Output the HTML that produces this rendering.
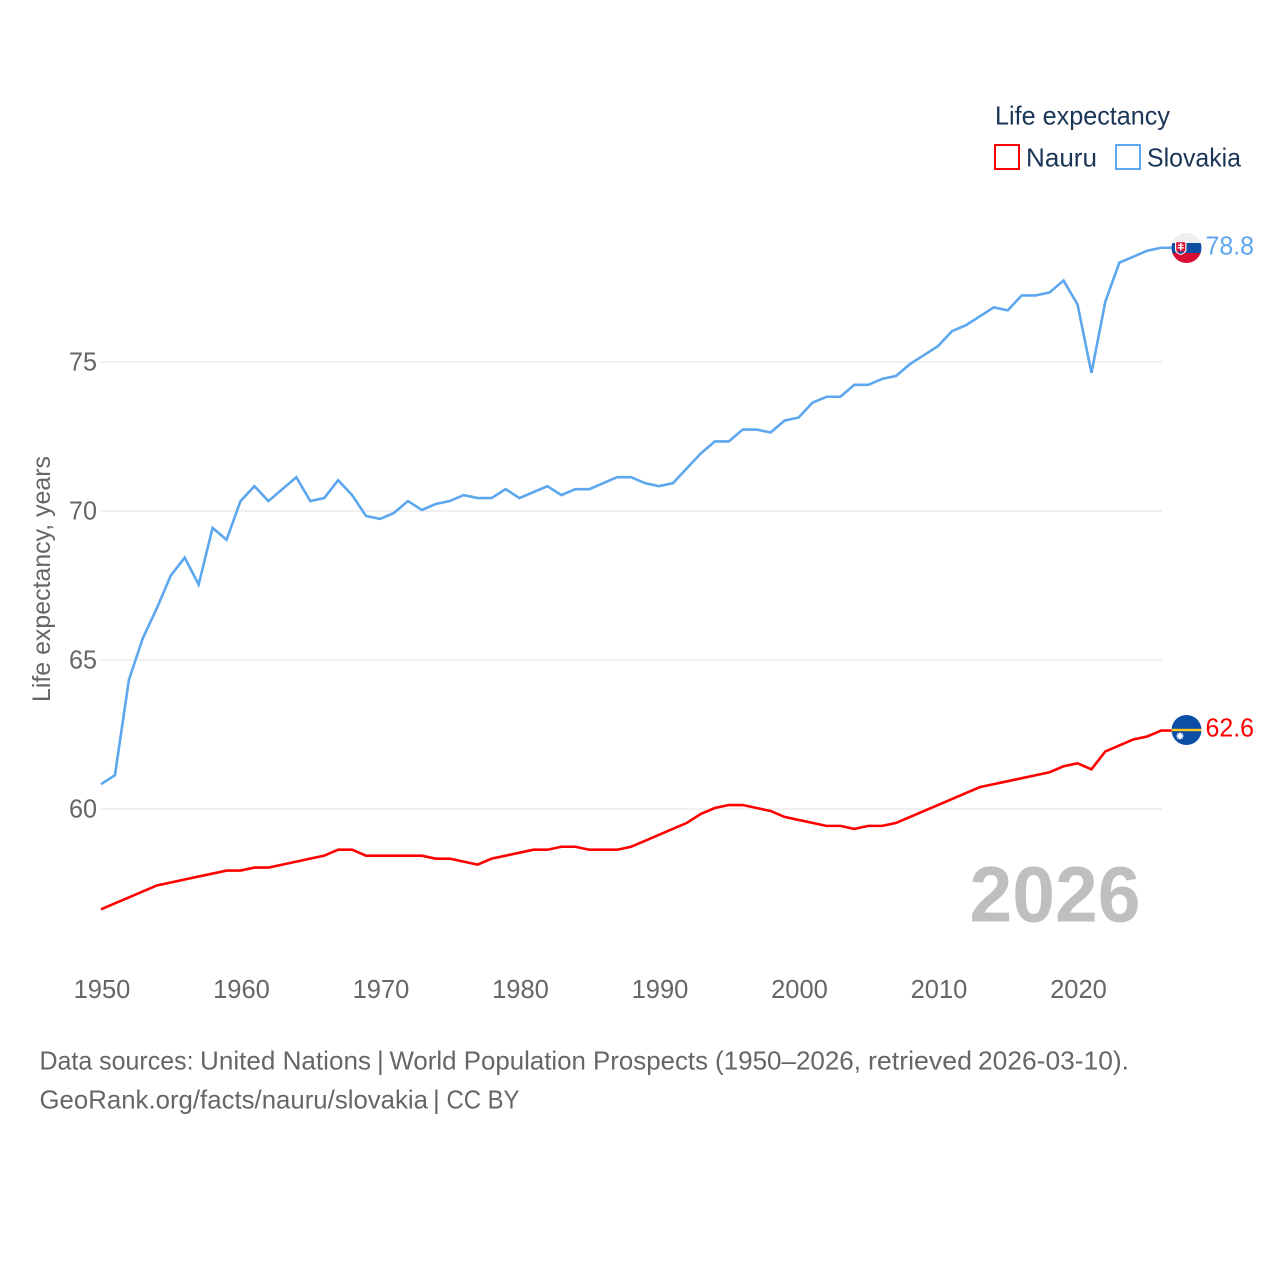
<!DOCTYPE html>
<html lang="en">
<head>
<meta charset="utf-8">
<title>Life expectancy: Nauru vs Slovakia</title>
<style>
html,body{margin:0;padding:0;background:#fff;width:1280px;height:1280px;overflow:hidden}
svg{display:block}
text{font-family:"Liberation Sans",sans-serif}
</style>
</head>
<body>
<svg id="chart" xmlns="http://www.w3.org/2000/svg" width="1280" height="1280" viewBox="0 0 1280 1280">
  <rect width="1280" height="1280" fill="#fff"/>
  <g id="grid"></g>
  <g id="yticks"></g>
  <g id="xticks"></g>
  <text transform="translate(50,702) rotate(-90)" font-size="25" fill="#666" textLength="246" lengthAdjust="spacingAndGlyphs">Life expectancy, years</text>
  <text x="969.500" y="921.500" font-size="79" font-weight="700" fill="#bfbfbf" textLength="171" lengthAdjust="spacingAndGlyphs">2026</text>
  <g id="series" transform="translate(-0.5,-1)"></g>

  <g>
    <clipPath id="clip-sk"><circle cx="1186.500" cy="248" r="15"/></clipPath>
    <g clip-path="url(#clip-sk)">
      <rect x="1171" y="233" width="31" height="10" fill="#eeeeee"/>
      <rect x="1171" y="243" width="31" height="10" fill="#0b4ea2"/>
      <rect x="1171" y="253" width="31" height="10" fill="#d80f32"/>
      <path d="M1175 241h11.5v8.500c0 3-3 4.500-5.750 5.500c-2.750-1-5.750-2.500-5.750-5.500z" fill="#fff"/>
      <path d="M1176.200 242.200h9.100v7.300c0 2.300-2.300 3.500-4.550 4.300c-2.250-.8-4.550-2-4.550-4.300z" fill="#d80f32"/>
      <path d="M1180 243h1.500v1.600h2v1.300h-2v1.300h2.500v1.300h-2.500v2h-1.500v-2h-2.500v-1.300h2.500v-1.300h-2v-1.300h2z" fill="#fff"/>
      <path d="M1177.500 252.500c1-1.500 5.500-1.500 6.500 0c-1 .8-2.200 1.200-3.250 1.400c-1.050-.2-2.250-.6-3.250-1.400z" fill="#0b4ea2"/>
    </g>
  </g>
  <g>
    <clipPath id="clip-nr"><circle cx="1186.500" cy="730" r="15"/></clipPath>
    <g clip-path="url(#clip-nr)">
      <rect x="1171" y="715" width="31" height="30" fill="#0a4ea6"/>
      <rect x="1171" y="728.800" width="31" height="2.400" fill="#ffc61e"/>
      <circle cx="1180" cy="736" r="2.800" fill="#fff"/>
      <path d="M1180 732v8M1176 736h8M1177.200 733.200l5.600 5.600M1182.800 733.200l-5.600 5.600" stroke="#fff" stroke-width=".8"/>
    </g>
  </g>
  <text x="1205.500" y="254.500" font-size="25.500" fill="#5da7ee" textLength="48.500" lengthAdjust="spacingAndGlyphs">78.8</text>
  <text x="1205.500" y="736.500" font-size="25.500" fill="#ff0000" textLength="48.500" lengthAdjust="spacingAndGlyphs">62.6</text>

  <g>
    <text x="995" y="124.500" font-size="26" fill="#1a3556" textLength="175" lengthAdjust="spacingAndGlyphs">Life expectancy</text>
    <g>
      <rect x="995" y="145" width="24" height="24" fill="#fff" stroke="#ff0000" stroke-width="2"/>
      <text x="1026" y="166.500" font-size="26" fill="#1a3556" textLength="71" lengthAdjust="spacingAndGlyphs">Nauru</text>
    </g>
    <g>
      <rect x="1116" y="145" width="24" height="24" fill="#fff" stroke="#5da7ee" stroke-width="2"/>
      <text x="1147" y="166.500" font-size="26" fill="#1a3556" textLength="94" lengthAdjust="spacingAndGlyphs">Slovakia</text>
    </g>
  </g>

  <g font-size="26" fill="#666">
    <text x="39.500" y="1069.500" textLength="154" lengthAdjust="spacingAndGlyphs">Data sources:</text>
    <text x="200" y="1069.500" textLength="171" lengthAdjust="spacingAndGlyphs">United Nations</text>
    <text x="377" y="1069.500">|</text>
    <text x="389.500" y="1069.500" textLength="318.500" lengthAdjust="spacingAndGlyphs">World Population Prospects</text>
    <text x="715" y="1069.500" textLength="146" lengthAdjust="spacingAndGlyphs">(1950–2026,</text>
    <text x="868" y="1069.500" textLength="104" lengthAdjust="spacingAndGlyphs">retrieved</text>
    <text x="978" y="1069.500" textLength="151" lengthAdjust="spacingAndGlyphs">2026-03-10).</text>
  </g>
  <g font-size="26" fill="#666">
    <text x="39.500" y="1108.500" textLength="388.500" lengthAdjust="spacingAndGlyphs">GeoRank.org/facts/nauru/slovakia</text>
    <text x="433" y="1108.500">|</text>
    <text x="446.500" y="1108.500" textLength="73" lengthAdjust="spacingAndGlyphs">CC BY</text>
  </g>
</svg>
<script>
const startYear = 1950;
const yTickValues = [60, 65, 70, 75];
const xTickValues = [1950, 1960, 1970, 1980, 1990, 2000, 2010, 2020];
const nauruValues = [56.6,56.8,57.0,57.2,57.4,57.5,57.6,57.7,57.8,57.9,57.9,58.0,58.0,58.1,58.2,58.3,58.4,58.6,58.6,58.4,58.4,58.4,58.4,58.4,58.3,58.3,58.2,58.1,58.3,58.4,58.5,58.6,58.6,58.7,58.7,58.6,58.6,58.6,58.7,58.9,59.1,59.3,59.5,59.8,60.0,60.1,60.1,60.0,59.9,59.7,59.6,59.5,59.4,59.4,59.3,59.4,59.4,59.5,59.7,59.9,60.1,60.3,60.5,60.7,60.8,60.9,61.0,61.1,61.2,61.4,61.5,61.3,61.9,62.1,62.3,62.4,62.6];
const slovakiaValues = [60.8,61.1,64.3,65.7,66.7,67.8,68.4,67.5,69.4,69.0,70.3,70.8,70.3,70.7,71.1,70.3,70.4,71.0,70.5,69.8,69.7,69.9,70.3,70.0,70.2,70.3,70.5,70.4,70.4,70.7,70.4,70.6,70.8,70.5,70.7,70.7,70.9,71.1,71.1,70.9,70.8,70.9,71.4,71.9,72.3,72.3,72.7,72.7,72.6,73.0,73.1,73.6,73.8,73.8,74.2,74.2,74.4,74.5,74.9,75.2,75.5,76.0,76.2,76.5,76.8,76.7,77.2,77.2,77.3,77.7,76.9,74.6,77.0,78.3,78.5,78.7,78.8];

const NS = 'http://www.w3.org/2000/svg';
const xScale = function (year) { return 101.5 + (year - 1950) * 13.95; };
const yScale = function (value) { return 809 - (value - 60) * 29.8; };

const grid = document.getElementById('grid');
const yticks = document.getElementById('yticks');
const xticks = document.getElementById('xticks');
const series = document.getElementById('series');

yTickValues.forEach(function (v) {
  const line = document.createElementNS(NS, 'line');
  
  
  line.setAttribute('x1', 101);
  line.setAttribute('x2', 1162);
  line.setAttribute('y1', yScale(v));
  line.setAttribute('y2', yScale(v));
  line.setAttribute('stroke', '#ebebeb');
  line.setAttribute('stroke-width', 1.5);
  grid.appendChild(line);

  const label = document.createElementNS(NS, 'text');
  
  
  label.setAttribute('x', 69);
  label.setAttribute('y', yScale(v) + 8.5);
  label.setAttribute('font-size', 26);
  label.setAttribute('fill', '#666');
  label.setAttribute('textLength', 28);
  label.setAttribute('lengthAdjust', 'spacingAndGlyphs');
  label.textContent = v;
  yticks.appendChild(label);
});

xTickValues.forEach(function (y) {
  const label = document.createElementNS(NS, 'text');
  
  
  label.setAttribute('x', xScale(y) + 0.5);
  label.setAttribute('y', 998);
  label.setAttribute('text-anchor', 'middle');
  label.setAttribute('font-size', 25.5);
  label.setAttribute('fill', '#666');
  label.textContent = y;
  xticks.appendChild(label);
});

function pathFor(values) {
  let d = values.map(function (v, i) {
    return (i ? 'L' : 'M') + xScale(startYear + i).toFixed(2) + ' ' + yScale(v).toFixed(2);
  }).join('');
  d += 'L1172 ' + yScale(values[values.length - 1]).toFixed(2);
  return d;
}

const nauruLine = document.createElementNS(NS, 'path');


nauruLine.setAttribute('d', pathFor(nauruValues));
nauruLine.setAttribute('fill', 'none');
nauruLine.setAttribute('stroke', '#ff0000');
nauruLine.setAttribute('stroke-width', 2.6);
series.appendChild(nauruLine);

const slovakiaLine = document.createElementNS(NS, 'path');


slovakiaLine.setAttribute('d', pathFor(slovakiaValues));
slovakiaLine.setAttribute('fill', 'none');
slovakiaLine.setAttribute('stroke', '#5da7ee');
slovakiaLine.setAttribute('stroke-width', 2.6);
series.appendChild(slovakiaLine);
</script>
</body>
</html>
